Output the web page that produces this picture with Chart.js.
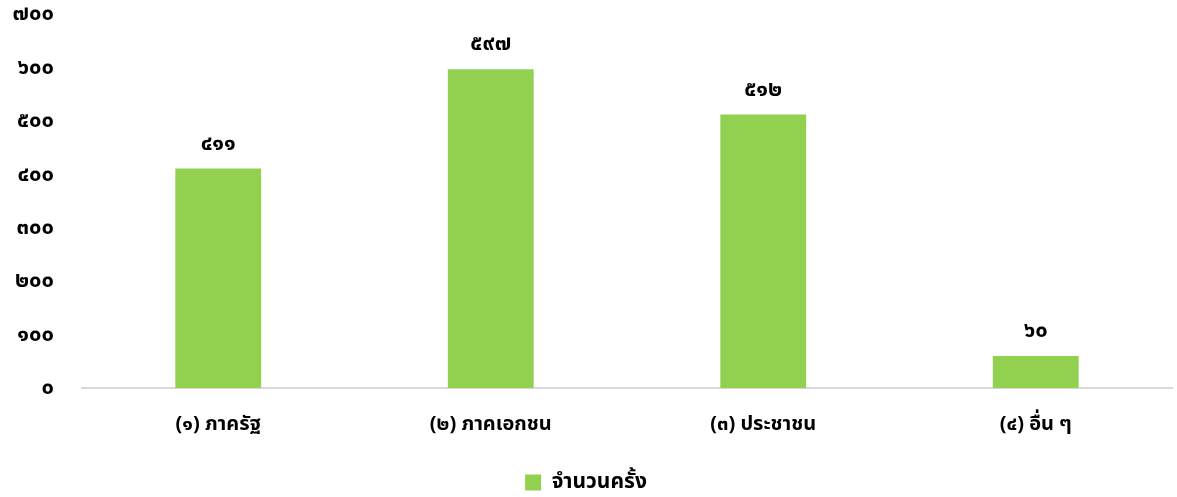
<!DOCTYPE html>
<html>
<head>
<meta charset="utf-8">
<script src="https://cdn.jsdelivr.net/npm/chart.js@4/dist/chart.umd.min.js"></script>
<style>
  html, body { margin: 0; padding: 0; background: #fff; overflow: hidden; }
  .wrap { width: 1177px; height: 530px; margin-top: -27px; }
</style>
</head>
<body>
<div class="wrap"><canvas id="myChart"></canvas></div>
<script>
const categories = ['(1) ภาครัฐ', '(2) ภาคเอกชน', '(3) ประชาชน', '(4) อื่น ๆ'];
const counts = [411, 597, 512, 60];
const seriesName = 'จำนวนครั้ง';

const thaiDigits = ['๐','๑','๒','๓','๔','๕','๖','๗','๘','๙'];
function toThai(s) {
  return String(s).replace(/[0-9]/g, d => thaiDigits[+d]);
}

const fontFamily = "'Noto Sans', 'Noto Sans Thai', Tahoma, sans-serif";

// labels above bars
const valueLabels = {
  id: 'valueLabels',
  afterDatasetsDraw(chart) {
    const ctx = chart.ctx;
    ctx.save();
    ctx.font = 'bold 22px ' + fontFamily;
    ctx.fillStyle = '#000';
    ctx.textAlign = 'center';
    ctx.textBaseline = 'middle';
    chart.getDatasetMeta(0).data.forEach((bar, i) => {
      ctx.fillText(toThai(counts[i]), bar.x, bar.y - 25);
    });
    ctx.restore();
  }
};

const data = {
  labels: categories.map(toThai),
  datasets: [{
    label: seriesName,
    backgroundColor: '#92D050',
    borderWidth: 0,
    data: counts,
    barPercentage: 0.63,
    categoryPercentage: 0.5
  }]
};

const config = {
  type: 'bar',
  data: data,
  options: {
    responsive: true,
    maintainAspectRatio: false,
    animation: false,
    layout: { padding: { top: 0, right: 5, left: 0, bottom: 0 } },
    scales: {
      x: {
        grid: { display: false, drawTicks: false },
        border: { display: true, color: '#d9d9d9', width: 2 },
        ticks: {
          color: '#000',
          padding: 24,
          font: { family: fontFamily, size: 20, weight: 'bold' }
        }
      },
      y: {
        min: 0,
        max: 700,
        afterFit(scale) { scale.width = 82; },
        grid: { display: false, drawTicks: false },
        border: { display: false },
        ticks: {
          stepSize: 100,
          color: '#000',
          padding: 28,
          font: { family: fontFamily, size: 22, weight: 'bold' },
          callback: v => toThai(v)
        }
      }
    },
    plugins: {
      tooltip: { enabled: false },
      legend: {
        position: 'bottom',
        align: 'center',
        labels: {
          color: '#000',
          boxWidth: 16,
          boxHeight: 16,
          padding: 12,
          font: { family: fontFamily, size: 21, weight: 'bold' }
        }
      }
    }
  },
  plugins: [valueLabels]
};

const myChart = new Chart(document.getElementById('myChart'), config);
</script>
</body>
</html>
